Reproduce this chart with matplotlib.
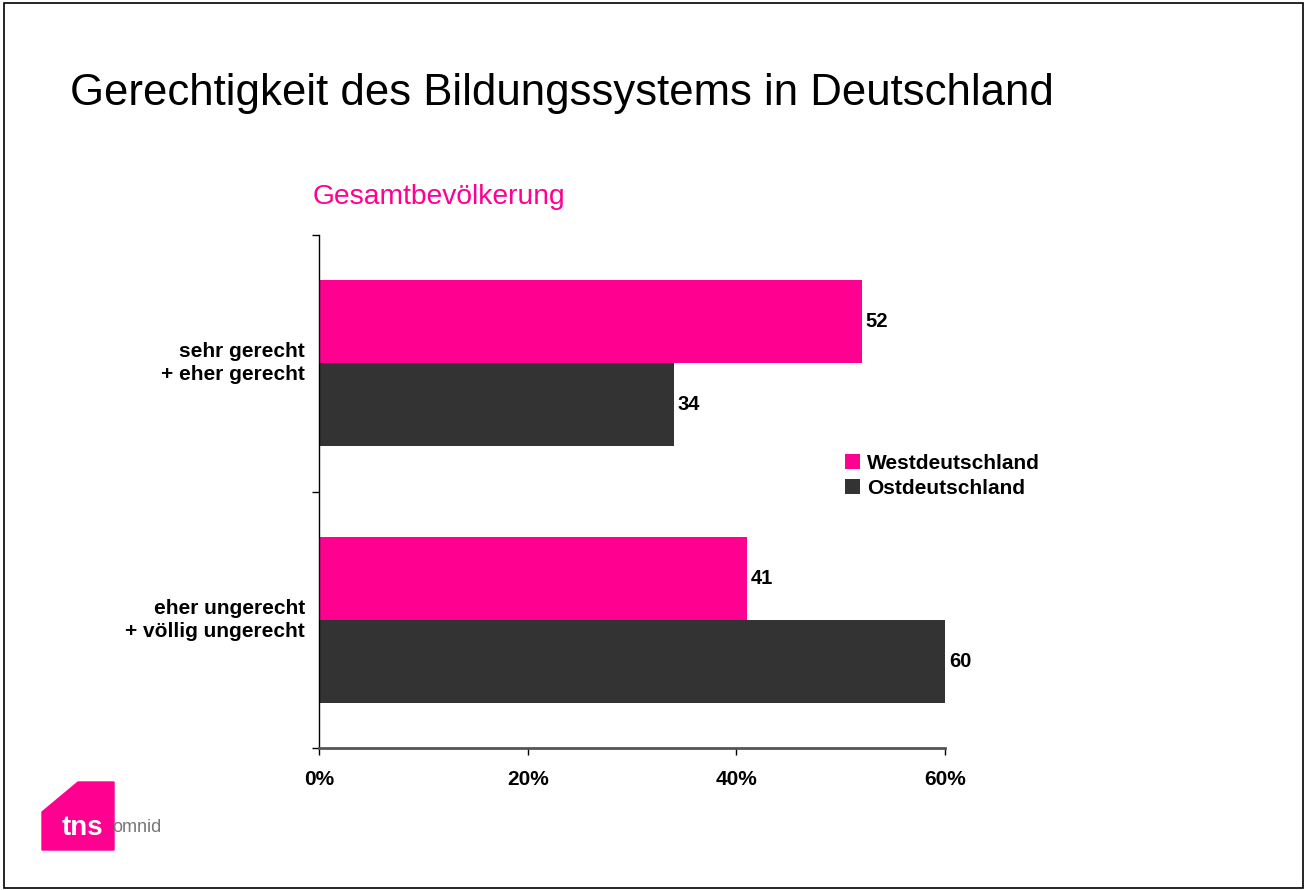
import matplotlib.pyplot as plt
from matplotlib.patches import Rectangle, Polygon

plt.rcParams["font.family"] = ["Liberation Sans", "DejaVu Sans"]

categories = ["sehr gerecht\n+ eher gerecht", "eher ungerecht\n+ völlig ungerecht"]
west = [52, 41]
ost = [34, 60]
series_names = ["Westdeutschland", "Ostdeutschland"]
xticks = [0, 20, 40, 60]

PINK = "#ff0090"
DARK = "#333333"

fig = plt.figure(figsize=(13.07, 8.9), dpi=100)
W, H = 1307, 890

# frame around the slide
fig.patches.append(Rectangle((4 / W, 2 / H), 1 - 8 / W, 1 - 5 / H, transform=fig.transFigure,
                             fill=False, edgecolor="black", linewidth=1.2))

fig.text(70 / W, 1 - 93 / H, "Gerechtigkeit des Bildungssystems in Deutschland",
         fontsize=31.5, va="center", ha="left")
fig.text(313 / W, 1 - 197 / H, "Gesamtbevölkerung", fontsize=20.3, color=PINK,
         va="center", ha="left")

ax = fig.add_axes([319 / W, 142 / H, 626 / W, 513 / H])
centers = [i + 0.5 for i in range(len(categories))]
h = 0.323
ax.barh([c - h / 2 for c in centers], west, height=h, color=PINK, label=series_names[0])
ax.barh([c + h / 2 for c in centers], ost, height=h, color=DARK, label=series_names[1])

for c, v in zip(centers, west):
    ax.text(v + 0.4, c - h / 2, str(v), va="center", ha="left", fontsize=14.5, fontweight="bold")
for c, v in zip(centers, ost):
    ax.text(v + 0.4, c + h / 2, str(v), va="center", ha="left", fontsize=14.5, fontweight="bold")

ax.set_ylim(len(categories), 0)
ax.set_xlim(0, 60)
ax.set_yticks([0, 1, 2])
ax.set_yticklabels([])
ax.tick_params(axis="y", length=5, direction="out", width=1)
ax.set_xticks(xticks)
ax.set_xticklabels([f"{t}%" for t in xticks], fontsize=15, fontweight="bold")
ax.tick_params(axis="x", length=5, direction="out", width=1, pad=11)
for c, lab in zip(centers, categories):
    ax.text(-1.35, c, lab, ha="right", va="center", fontsize=15, fontweight="bold",
            linespacing=1.25)
for s in ["top", "right"]:
    ax.spines[s].set_visible(False)
ax.spines["bottom"].set_color("#555555")
ax.spines["bottom"].set_linewidth(2)
ax.spines["left"].set_linewidth(1)

ax.legend(loc="upper left", bbox_to_anchor=(826 / W, 1 - 435 / H),
          bbox_transform=fig.transFigure, frameon=False,
          handlelength=0.75, handleheight=0.75, handletextpad=0.3, labelspacing=0.3,
          prop={"weight": "bold", "size": 15})

# logo approximation
fig.patches.append(Polygon([(42 / W, 1 - 850 / H), (42 / W, 1 - 812 / H), (78 / W, 1 - 782 / H),
                            (114 / W, 1 - 782 / H), (114 / W, 1 - 850 / H)],
                           closed=True, transform=fig.transFigure, color=PINK))
fig.text(62 / W, 1 - 828 / H, "tns", fontsize=20, fontweight="bold", color="white",
         va="center", ha="left")
fig.text(112 / W, 1 - 828 / H, "omnid", fontsize=13, color="#777777", va="center", ha="left")

fig.savefig("out.png", dpi=100)
